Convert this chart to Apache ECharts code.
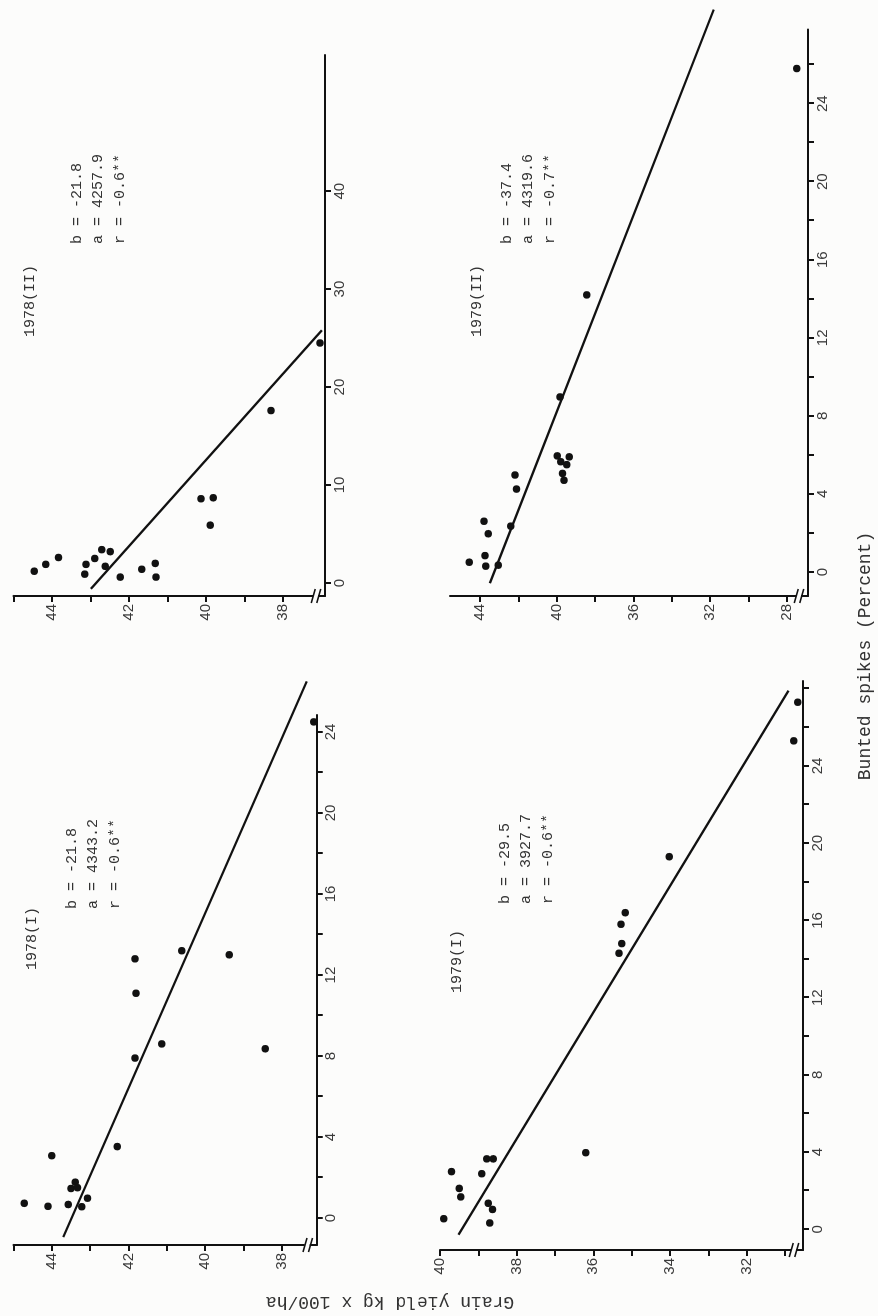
<!DOCTYPE html>
<html><head><meta charset="utf-8">
<script src="https://cdn.jsdelivr.net/npm/echarts@6/dist/echarts.min.js"></script>
<style>
html,body{margin:0;padding:0;background:#fcfcfb;width:878px;height:1316px;overflow:hidden}
#page{position:absolute;left:0;top:0;width:1316px;height:878px;transform-origin:0 0;transform:translate(0px,1316px) rotate(-90deg);}
</style></head><body><div id="page"></div>
<script>
// ---- data ----
const panelTitles = ['1978(I)', '1978(II)', '1979(I)', '1979(II)'];
const statB = ['-21.8', '-21.8', '-29.5', '-37.4'];
const statA = ['4343.2', '4257.9', '3927.7', '4319.6'];
const statR = ['-0.6**', '-0.6**', '-0.6**', '-0.7**'];

const spikes78I = [0.73, 0.58, 3.08, 0.67, 1.46, 1.77, 1.50, 0.56, 0.98, 3.53, 7.9, 11.1, 12.8, 8.6, 13.2, 13.0, 8.36, 24.5];
const yield78I  = [44.72, 44.10, 44.0, 43.57, 43.50, 43.39, 43.33, 43.22, 43.07, 42.29, 41.83, 41.80, 41.83, 41.13, 40.61, 39.37, 38.43, 37.17];

const spikes78II = [1.2, 1.9, 2.6, 0.9, 1.9, 2.5, 3.4, 1.7, 3.2, 0.6, 1.4, 2.0, 0.6, 8.6, 8.7, 5.9, 17.6, 24.5];
const yield78II  = [44.46, 44.16, 43.83, 43.15, 43.12, 42.89, 42.71, 42.62, 42.49, 42.23, 41.67, 41.32, 41.30, 40.13, 39.81, 39.89, 38.31, 37.04];

const spikes79I = [0.55, 2.99, 2.12, 1.68, 2.88, 1.35, 1.03, 0.33, 3.65, 3.65, 3.97, 14.3, 14.8, 15.8, 16.4, 19.3, 25.3, 27.3];
const yield79I  = [39.90, 39.70, 39.50, 39.46, 38.91, 38.74, 38.63, 38.70, 38.78, 38.61, 36.20, 35.33, 35.26, 35.28, 35.17, 34.02, 30.77, 30.67];

const spikes79II = [0.5, 0.84, 0.3, 0.35, 1.96, 2.6, 2.35, 4.25, 4.97, 5.95, 5.65, 5.9, 5.5, 5.05, 4.7, 8.97, 14.2, 25.8];
const yield79II  = [44.56, 43.74, 43.70, 43.05, 43.57, 43.79, 42.40, 42.09, 42.17, 39.97, 39.79, 39.34, 39.48, 39.69, 39.62, 39.83, 38.43, 27.48];

// regression line end points
const fit78I_x = [-0.94, 26.5],  fit78I_y = [43.70, 37.35];
const fit78II_x = [-0.6, 25.8],  fit78II_y = [42.99, 36.99];
const fit79I_x = [-0.28, 27.9],  fit79I_y = [39.52, 30.91];
const fit79II_x = [-0.56, 29.4], fit79II_y = [43.48, 31.81];

// tick marks and labels
const xTicks78I = [0, 2, 4, 6, 8, 10, 12, 14, 16, 18, 20, 22, 24];
const xLabels78I = [0, 4, 8, 12, 16, 20, 24];
const xTicks78II = [0, 10, 20, 30, 40];
const xLabels78II = [0, 10, 20, 30, 40];
const xTicks79I = [0, 2, 4, 6, 8, 10, 12, 14, 16, 18, 20, 22, 24, 26, 28];
const xLabels79I = [0, 4, 8, 12, 16, 20, 24];
const xTicks79II = [0, 2, 4, 6, 8, 10, 12, 14, 16, 18, 20, 22, 24, 26];
const xLabels79II = [0, 4, 8, 12, 16, 20, 24];
const yTicks78 = [38, 39, 40, 41, 42, 43, 44, 45];
const yLabels78 = [38, 40, 42, 44];
const yTicks79I = [31, 32, 33, 34, 35, 36, 37, 38, 39, 40];
const yLabels79I = [32, 34, 36, 38, 40];
const yTicks79II = [28, 30, 32, 34, 36, 38, 40, 42, 44];
const yLabels79II = [28, 32, 36, 40, 44];

// ---- build ----
const zip = (a, b) => a.map((v, i) => [v, b[i]]);
const panels = [
  { pts: zip(spikes78I, yield78I), fit: zip(fit78I_x, fit78I_y), xt: xTicks78I, xl: xLabels78I, yt: yTicks78, yl: yLabels78,
    grid: { left: 71, top: 13.4, width: 530, height: 303.3 }, xr: [-1.33, 24.84], yr: [37.09, 45.0] },
  { pts: zip(spikes78II, yield78II), fit: zip(fit78II_x, fit78II_y), xt: xTicks78II, xl: xLabels78II, yt: yTicks78, yl: yLabels78,
    grid: { left: 720, top: 13.5, width: 541, height: 311.5 }, xr: [-1.33, 53.9], yr: [36.91, 45.0] },
  { pts: zip(spikes79I, yield79I), fit: zip(fit79I_x, fit79I_y), xt: xTicks79I, xl: xLabels79I, yt: yTicks79I, yl: yLabels79I,
    grid: { left: 66, top: 440, width: 569, height: 363 }, xr: [-1.07, 28.4], yr: [30.53, 40.0] },
  { pts: zip(spikes79II, yield79II), fit: zip(fit79II_x, fit79II_y), xt: xTicks79II, xl: xLabels79II, yt: yTicks79II, yl: yLabels79II,
    grid: { left: 720, top: 450, width: 566.5, height: 358 }, xr: [-1.23, 27.8], yr: [26.9, 45.56] }
];

const INK = '#111';
const BG = '#fcfcfb';
const tickFont = { fontFamily: 'Liberation Sans', fontSize: 15, color: '#3a3a3a' };
const chart = echarts.init(document.getElementById('page'), null, { renderer: 'canvas' });

const grids = [], xAxes = [], yAxes = [], series = [];
panels.forEach((p, i) => {
  grids.push(Object.assign({ containLabel: false }, p.grid));
  xAxes.push({
    type: 'value', gridIndex: i, min: p.xr[0], max: p.xr[1],
    axisLine: { show: true, onZero: false, lineStyle: { color: INK, width: 2 } },
    axisTick: { show: true, customValues: p.xt, length: 6, lineStyle: { color: INK, width: 2 } },
    axisLabel: Object.assign({ show: true, customValues: p.xl, margin: 7 }, tickFont),
    splitLine: { show: false }
  });
  yAxes.push({
    type: 'value', gridIndex: i, min: p.yr[0], max: p.yr[1],
    axisLine: { show: true, onZero: false, lineStyle: { color: INK, width: 2 } },
    axisTick: { show: true, customValues: p.yt, length: 6, lineStyle: { color: INK, width: 2 } },
    axisLabel: Object.assign({ show: true, customValues: p.yl, margin: 8 }, tickFont),
    splitLine: { show: false }
  });
});
// hidden companion grids with the same scale but a wider x extent, so regression lines can run past the axis end
panels.forEach((p, i) => {
  const ppu = p.grid.width / (p.xr[1] - p.xr[0]);
  const xmax = Math.max(p.xr[1], p.fit[1][0] + 0.5);
  grids.push({ containLabel: false, left: p.grid.left, top: p.grid.top, height: p.grid.height,
    width: (xmax - p.xr[0]) * ppu });
  xAxes.push({ type: 'value', gridIndex: 4 + i, min: p.xr[0], max: xmax, show: false, splitLine: { show: false } });
  yAxes.push({ type: 'value', gridIndex: 4 + i, min: p.yr[0], max: p.yr[1], show: false, splitLine: { show: false } });
});
panels.forEach((p, i) => {
  series.push({
    type: 'line', xAxisIndex: 4 + i, yAxisIndex: 4 + i, data: p.fit, symbol: 'none', clip: false,
    lineStyle: { color: INK, width: 2.3 }, z: 2
  });
  series.push({
    type: 'scatter', xAxisIndex: i, yAxisIndex: i, data: p.pts, symbolSize: 7.5,
    itemStyle: { color: INK, opacity: 1 }, z: 3
  });
});
chart.setOption({ animation: false, backgroundColor: BG, grid: grids, xAxis: xAxes, yAxis: yAxes, series: series });

// text + axis breaks
const textFont = 'Liberation Mono';
const titlePos = [[346, 32], [979, 30], [323, 457], [979, 477]];
const statPos = [[407, 72], [1072, 77], [412, 505], [1072, 507]];
const g = [];
panels.forEach((p, i) => {
  g.push({ type: 'text', x: titlePos[i][0], y: titlePos[i][1],
    style: { text: panelTitles[i], font: '15px ' + textFont, fill: '#333', textVerticalAlign: 'middle' } });
  const lines = ['b = ' + statB[i], 'a = ' + statA[i], 'r = ' + statR[i]];
  lines.forEach((t, k) => g.push({ type: 'text', x: statPos[i][0], y: statPos[i][1] + k * 21.3,
    style: { text: t, font: '15px ' + textFont, fill: '#333', textVerticalAlign: 'middle' } }));
  const c = chart.convertToPixel({ xAxisIndex: i, yAxisIndex: i }, [p.xr[0], p.yr[0]]);
  const bx = c[0], by = c[1] - 9;
  g.push({ type: 'rect', shape: { x: bx - 3, y: by - 3, width: 6, height: 5 }, style: { fill: BG }, z: 50 });
  [-2.8, 2.8].forEach(d => g.push({ type: 'line', z: 51,
    shape: { x1: bx - 7, y1: by + d - 2, x2: bx + 7, y2: by + d + 2 }, style: { stroke: INK, lineWidth: 1.6 } }));
});
g.push({ type: 'text', x: 14, y: 390, rotation: Math.PI / 2,
  style: { text: 'Grain yield kg x 100/ha', font: '18px ' + textFont, fill: '#333', textAlign: 'center', textVerticalAlign: 'middle' } });
g.push({ type: 'text', x: 660, y: 865,
  style: { text: 'Bunted spikes (Percent)', font: '18px ' + textFont, fill: '#333', textAlign: 'center', textVerticalAlign: 'middle' } });
chart.setOption({ graphic: g });
</script></body></html>
